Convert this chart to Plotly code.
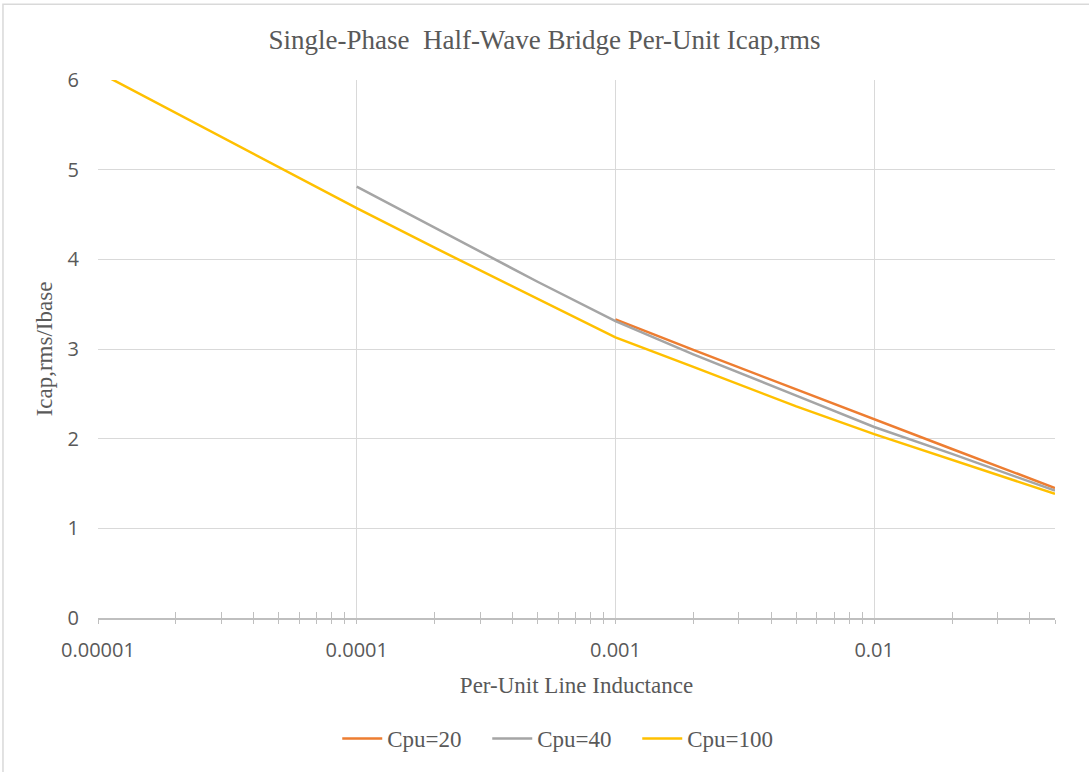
import plotly.graph_objects as go

# Per-unit line inductance (x) and per-unit Icap,rms (y) for each Cpu
x_cpu100 = [1e-5, 2e-5, 5e-5, 1e-4, 2e-4, 5e-4, 1e-3, 2e-3, 5e-3, 1e-2, 2e-2, 5e-2]
y_cpu100 = [6.09, 5.63, 5.03, 4.57, 4.13, 3.56, 3.13, 2.80, 2.36, 2.05, 1.76, 1.385]

x_cpu40 = [1e-4, 2e-4, 5e-4, 1e-3, 2e-3, 5e-3, 1e-2, 2e-2, 5e-2]
y_cpu40 = [4.81, 4.35, 3.75, 3.31, 2.94, 2.48, 2.13, 1.83, 1.42]

x_cpu20 = [1e-3, 2e-3, 5e-3, 1e-2, 2e-2, 5e-2]
y_cpu20 = [3.33, 2.99, 2.55, 2.215, 1.885, 1.45]

series_names = ["Cpu=20", "Cpu=40", "Cpu=100"]
series_colors = ["#ED7D31", "#A5A5A5", "#FFC000"]

x_major_ticks = [1e-5, 1e-4, 1e-3, 1e-2]
x_major_labels = ["0.00001", "0.0001", "0.001", "0.01"]
x_minor_ticks = [m * d for d in (1e-5, 1e-4, 1e-3) for m in range(2, 10)] + [2e-2, 3e-2, 4e-2, 5e-2]
y_ticks = [0, 1, 2, 3, 4, 5, 6]

fig = go.Figure()
for name, color, xs, ys in zip(series_names, series_colors,
                               [x_cpu20, x_cpu40, x_cpu100],
                               [y_cpu20, y_cpu40, y_cpu100]):
    fig.add_trace(go.Scatter(x=xs, y=ys, mode="lines", name=name,
                             line=dict(color=color, width=2.5)))

serif = "Liberation Serif, Times New Roman, serif"
sans = "Open Sans, Liberation Sans, sans-serif"
txt = "#595959"
tick_col = "#BFBFBF"

fig.update_layout(
    width=1089, height=772,
    margin=dict(l=98, r=34, t=80, b=152),
    paper_bgcolor="white", plot_bgcolor="white",
    title=dict(text="Single-Phase  Half-Wave Bridge Per-Unit Icap,rms",
               x=0.5, xanchor="center", y=1 - 40 / 772, yanchor="middle",
               yref="container", font=dict(family=serif, size=27, color=txt)),
    showlegend=True,
    legend=dict(orientation="h", x=0.25, xanchor="left", y=-0.224, yanchor="middle",
                font=dict(family=serif, size=23, color=txt), itemwidth=40,
                entrywidth=95, entrywidthmode="pixels",
                traceorder="normal"),
    xaxis=dict(type="log", range=[-5, -1.30103],
               tickmode="array", tickvals=x_major_ticks, ticktext=x_major_labels,
               showgrid=True, gridcolor="#D9D9D9", gridwidth=1.3,
               showline=True, linecolor=tick_col, linewidth=1.5,
               ticks="outside", ticklen=4, tickcolor=tick_col, tickwidth=1.3,
               minor=dict(tickmode="array", tickvals=x_minor_ticks, ticks="outside",
                          ticklen=4, tickcolor=tick_col, tickwidth=1.3, showgrid=False),
               tickfont=dict(family=sans, size=20, color=txt),
               ticklabelstandoff=9,
               title=dict(text="Per-Unit Line Inductance", standoff=15,
                          font=dict(family=serif, size=23, color=txt)),
               zeroline=False),
    xaxis2=dict(type="log", range=[-5, -1.30103], overlaying="x", anchor="y",
                side="bottom", showgrid=False, showline=False, zeroline=False,
                showticklabels=False,
                tickmode="array", tickvals=[1e-5],
                ticks="inside", ticklen=6, tickcolor=tick_col, tickwidth=1.3,
                minor=dict(tickmode="array", tickvals=x_minor_ticks, ticks="inside",
                           ticklen=6, tickcolor=tick_col, tickwidth=1.3, showgrid=False)),
    yaxis=dict(range=[0, 6], tickmode="array", tickvals=y_ticks,
               showgrid=True, gridcolor="#D9D9D9", gridwidth=1.3,
               showline=False, ticks="", zeroline=False,
               tickfont=dict(family=sans, size=20, color=txt),
               ticklabelstandoff=18,
               title=dict(text="Icap,rms/Ibase", standoff=8,
                          font=dict(family=serif, size=23, color=txt))),
    shapes=[dict(type="rect", xref="paper", yref="paper",
                 x0=-0.0993, x1=1.042, y0=-0.296, y1=1.1407,
                 line=dict(color="#D9D9D9", width=1.5), layer="below")],
)
# invisible helper trace so the overlay axis (tick marks only) is drawn
fig.add_trace(go.Scatter(x=[x_major_ticks[0]], y=[y_ticks[0]], xaxis="x2",
                         mode="markers", marker=dict(opacity=0), showlegend=False,
                         hoverinfo="skip"))

fig.write_html("out.html", config={"displayModeBar": False},
               post_script="document.body.style.margin='0px';")
